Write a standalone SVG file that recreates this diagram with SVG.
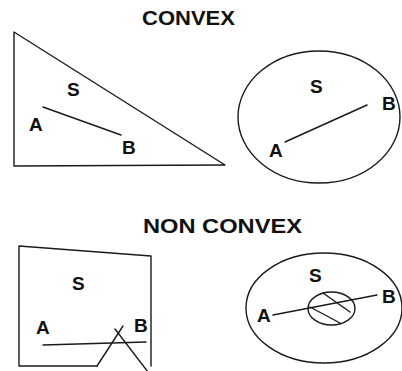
<svg xmlns="http://www.w3.org/2000/svg" width="402" height="371" viewBox="0 0 402 371">
<style>
.s{fill:none;stroke:#1a1a1a;stroke-width:1.4;stroke-linecap:round;stroke-linejoin:round}
.t{font-family:"Liberation Sans",Arial,sans-serif;font-weight:bold;fill:#111}
.h{font-size:21px}
.l{font-size:19px}
</style>
<rect width="402" height="371" fill="#fff"/>
<text class="t h" x="142" y="24.5" textLength="93" lengthAdjust="spacingAndGlyphs">CONVEX</text>
<text class="t h" x="143" y="233" textLength="159" lengthAdjust="spacingAndGlyphs">NON CONVEX</text>
<g id="triangle">
<polygon class="s" points="14,32 14,166 225,165"/>
<text class="t l" x="67" y="96">S</text>
<text class="t l" x="29" y="131">A</text>
<text class="t l" x="122" y="154">B</text>
</g>
<g id="ellipse">
<ellipse class="s" cx="319" cy="117" rx="81" ry="66"/>
<text class="t l" x="310" y="93">S</text>
<text class="t l" x="269" y="157">A</text>
<text class="t l" x="382" y="110">B</text>
</g>
<g id="nonconvex-shape">
<polyline class="s" points="97,366 19,366 19,246 151,256 151,366"/>
<text class="t l" x="72" y="290">S</text>
<text class="t l" x="36" y="334">A</text>
<text class="t l" x="134" y="332">B</text>
</g>
<g id="ring">
<ellipse class="s" cx="324" cy="308" rx="78" ry="55"/>
<ellipse class="s" cx="331.5" cy="308.5" rx="23.5" ry="16.5"/>
<line class="s" x1="323" y1="293" x2="350" y2="312"/>
<line class="s" x1="310" y1="307" x2="340" y2="323"/>
<text class="t l" x="309" y="282">S</text>
<text class="t l" x="257" y="322">A</text>
<text class="t l" x="382" y="303">B</text>
</g>
<g id="connectors">
<line class="s" x1="43" y1="107" x2="121" y2="135"/>
<line class="s" x1="285" y1="142" x2="367" y2="105"/>
<line class="s" x1="43" y1="345" x2="146" y2="342"/>
<polyline class="s" points="97,366 123,326"/>
<line class="s" x1="115" y1="329" x2="148" y2="372"/>
<line class="s" x1="273" y1="315" x2="377" y2="295"/>
</g>
</svg>
